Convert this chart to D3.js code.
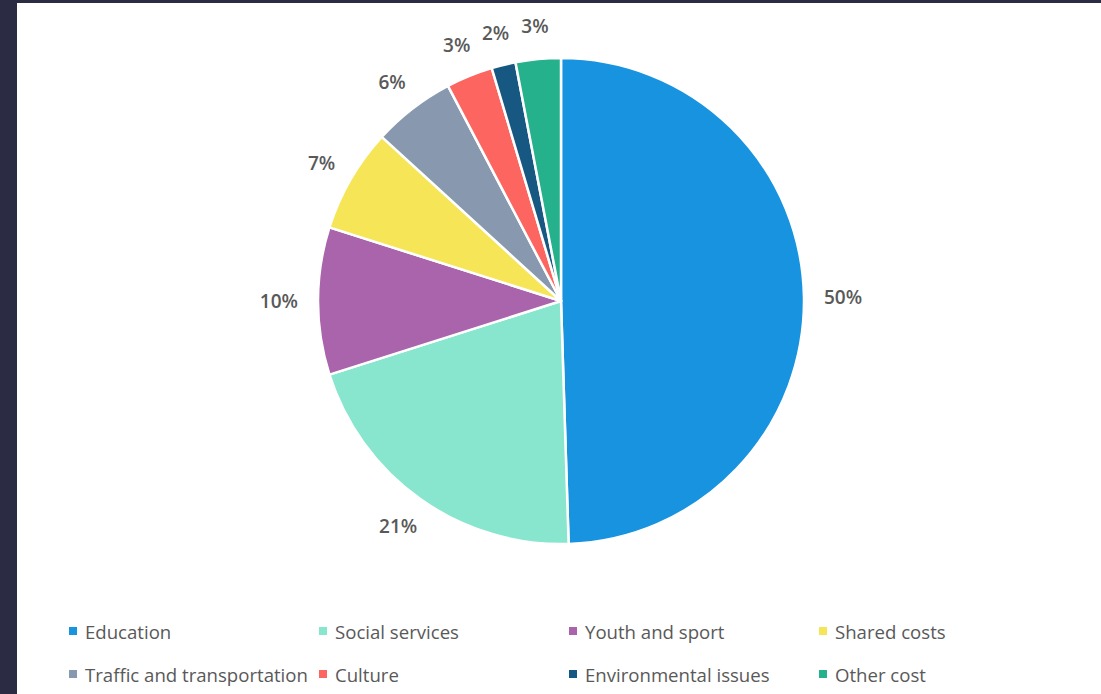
<!DOCTYPE html>
<html>
<head>
<meta charset="utf-8">
<script src="https://cdn.jsdelivr.net/npm/d3@7"></script>
<style>
  html, body { margin: 0; padding: 0; background: #2b2c44; }
  #chart { position: absolute; left: 17px; top: 3px; }
</style>
</head>
<body>
<div id="chart"></div>
<script>
// budget shares, %
const categories = ['Education', 'Social services', 'Youth and sport', 'Shared costs',
    'Traffic and transportation', 'Culture', 'Environmental issues', 'Other cost'];
const shares = [49.5, 20.6, 9.8, 6.9, 5.5, 3.1, 1.6, 3.0];
const colors = ['#1793e0', '#87e6cd', '#a964ab', '#f6e557', '#8898ae', '#fd6660', '#165882', '#24b18c'];

const width = 1084, height = 691;
const cx = 544, cy = 298, radius = 243;

const svg = d3.select('#chart').append('svg')
    .attr('width', width)
    .attr('height', height)
    .style('background', '#ffffff')
    .style('display', 'block');

const data = categories.map((c, i) => ({ name: c, value: shares[i], color: colors[i] }));

const pie = d3.pie().sort(null).value(d => d.value);
const arc = d3.arc().innerRadius(0).outerRadius(radius);
const arcs = pie(data);

const chart = svg.append('g')
    .attr('transform', `translate(${cx}, ${cy})`);

chart.selectAll('path.slice')
    .data(arcs)
    .join('path')
    .attr('class', 'slice')
    .attr('d', arc)
    .attr('fill', d => d.data.color)
    .attr('stroke', '#ffffff')
    .attr('stroke-width', 2.5)
    .attr('stroke-linejoin', 'round');

// data labels outside the pie, box kept a fixed gap from the edge
const gap = 20;
chart.selectAll('text.label')
    .data(arcs)
    .join('text')
    .attr('class', 'label')
    .attr('font-family', '"Open Sans", sans-serif')
    .attr('font-size', 19)
    .attr('font-weight', 600)
    .attr('fill', '#595959')
    .attr('text-anchor', 'middle')
    .attr('dominant-baseline', 'central')
    .text(d => Math.round(d.data.value) + '%')
    .each(function(d) {
        const a = (d.startAngle + d.endAngle) / 2;
        const box = this.getBBox();
        const sx = Math.sin(a), sy = -Math.cos(a);
        const x = (radius + gap) * sx + box.width / 2 * sx;
        const y = (radius + gap) * sy + box.height / 2 * sy;
        d3.select(this).attr('x', x).attr('y', y);
    });

// legend, 4 columns x 2 rows
const legend = svg.append('g').attr('class', 'legend');
const colW = 250, rowH = 43, legX = 52, legY = 628;

const item = legend.selectAll('g.item')
    .data(data)
    .join('g')
    .attr('class', 'item')
    .attr('transform', (d, i) => `translate(${legX + (i % 4) * colW}, ${legY + Math.floor(i / 4) * rowH})`);

item.append('rect')
    .attr('x', 0)
    .attr('y', -4)
    .attr('width', 8)
    .attr('height', 8)
    .attr('fill', d => d.color);

item.append('text')
    .attr('x', 16)
    .attr('y', 0)
    .attr('dominant-baseline', 'central')
    .attr('font-family', '"Open Sans", sans-serif')
    .attr('font-size', 18.6)
    .attr('fill', '#595959')
    .text(d => d.name);
</script>
</body>
</html>
